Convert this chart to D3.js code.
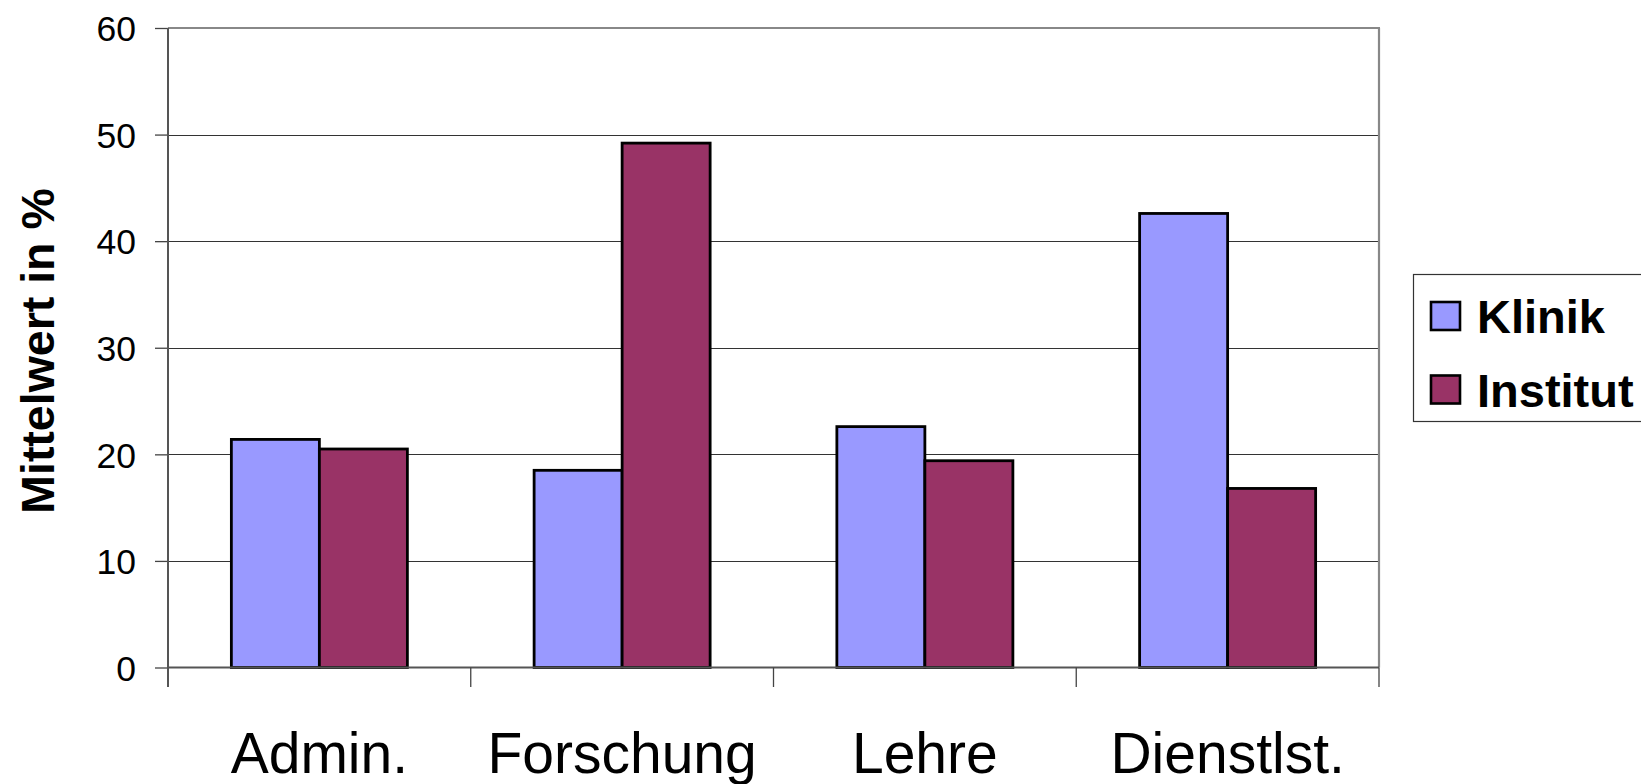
<!DOCTYPE html>
<html><head><meta charset="utf-8">
<script src="https://cdn.jsdelivr.net/npm/d3@7"></script>
<style>
html,body{margin:0;padding:0;background:#fff;overflow:hidden;}
text{font-family:"Liberation Sans",Arial,sans-serif;}
</style></head>
<body><svg id="c" width="1641" height="784"></svg>
<script>
const categories = ["Admin.", "Forschung", "Lehre", "Dienstlst."];
const seriesNames = ["Klinik", "Institut"];
const klinik = [21.4, 18.5, 22.6, 42.6];
const institut = [20.5, 49.2, 19.4, 16.8];
const yTicks = [0, 10, 20, 30, 40, 50, 60];
const colors = ["#9999FF", "#993366"];

const svg = d3.select("#c");
const L = 168, R = 1379, T = 28, B = 667.5;

const x = d3.scaleBand().domain(categories).range([L, R]).paddingInner(0).paddingOuter(0);
const xs = d3.scaleBand().domain(seriesNames).range([0, x.bandwidth()]).paddingInner(0).paddingOuter(0.72);
const y = d3.scaleLinear().domain([0, 60]).range([B, T]);

// gridlines
svg.append("g").selectAll("line").data(yTicks.filter(d => d > 0 && d < 60)).join("line")
  .attr("x1", L).attr("x2", R).attr("y1", d => Math.round(y(d)) + 0.5).attr("y2", d => Math.round(y(d)) + 0.5)
  .attr("stroke", "#333").attr("stroke-width", 1.2);

// top and right border
svg.append("line").attr("x1", L).attr("x2", R + 1).attr("y1", y(60)).attr("y2", y(60))
  .attr("stroke", "#888").attr("stroke-width", 2.2);
svg.append("line").attr("x1", R).attr("x2", R).attr("y1", y(60)).attr("y2", B)
  .attr("stroke", "#888").attr("stroke-width", 2.2);

// bars
const data = categories.map((c, i) => ({c, vals: [klinik[i], institut[i]]}));
const g = svg.append("g").selectAll("g").data(data).join("g")
  .attr("transform", d => `translate(${x(d.c)},0)`);
g.selectAll("rect").data(d => d.vals.map((v, j) => ({s: seriesNames[j], v, j}))).join("rect")
  .attr("x", d => xs(d.s)).attr("width", xs.bandwidth())
  .attr("y", d => y(d.v)).attr("height", d => y(0) - y(d.v))
  .attr("fill", d => colors[d.j]).attr("stroke", "#000").attr("stroke-width", 2.8);

// y axis
const yAxis = d3.axisLeft(y).tickValues(yTicks).tickSize(13).tickPadding(19);
const ya = svg.append("g").attr("transform", `translate(${L},0)`).call(yAxis);
ya.select(".domain").remove();
ya.selectAll(".tick line").attr("stroke", "#444").attr("stroke-width", 1.3);
ya.selectAll(".tick text").attr("font-size", 35.5).attr("fill", "#000")
  .attr("font-family", "Liberation Sans, Arial, sans-serif").attr("dy", "0.36em");
svg.append("line").attr("x1", L).attr("x2", L).attr("y1", y(60)).attr("y2", 687)
  .attr("stroke", "#555").attr("stroke-width", 2);

// x axis line and ticks
svg.append("line").attr("x1", L).attr("x2", R).attr("y1", B).attr("y2", B)
  .attr("stroke", "#555").attr("stroke-width", 2);
const bounds = categories.map(c => x(c)).concat([R]);
svg.append("g").selectAll("line").data(bounds.slice(1)).join("line")
  .attr("x1", d => d).attr("x2", d => d).attr("y1", B).attr("y2", 687)
  .attr("stroke", "#444").attr("stroke-width", 1.3);

// x labels
svg.append("g").selectAll("text").data(categories).join("text")
  .attr("x", d => x(d) + x.bandwidth() / 2).attr("y", 772.5)
  .attr("text-anchor", "middle").attr("font-size", 57).attr("fill", "#000").text(d => d);

// y title
svg.append("text").attr("transform", "translate(54,351) rotate(-90)")
  .attr("text-anchor", "middle").attr("font-size", 46.5).attr("font-weight", "bold").attr("fill", "#000")
  .text("Mittelwert in %");

// legend
svg.append("rect").attr("x", 1413.5).attr("y", 274.5).attr("width", 260).attr("height", 147)
  .attr("fill", "#fff").attr("stroke", "#333").attr("stroke-width", 1.2);
const lg = svg.append("g").selectAll("g").data(seriesNames).join("g")
  .attr("transform", (d, i) => `translate(0,${i * 73.5})`);
lg.append("rect").attr("x", 1431).attr("y", 302).attr("width", 29).attr("height", 28)
  .attr("fill", (d, i) => colors[i]).attr("stroke", "#000").attr("stroke-width", 2.6);
lg.append("text").attr("x", 1477).attr("y", 333).attr("font-size", 47).attr("font-weight", "bold")
  .attr("fill", "#000").text(d => d);
</script></body></html>
